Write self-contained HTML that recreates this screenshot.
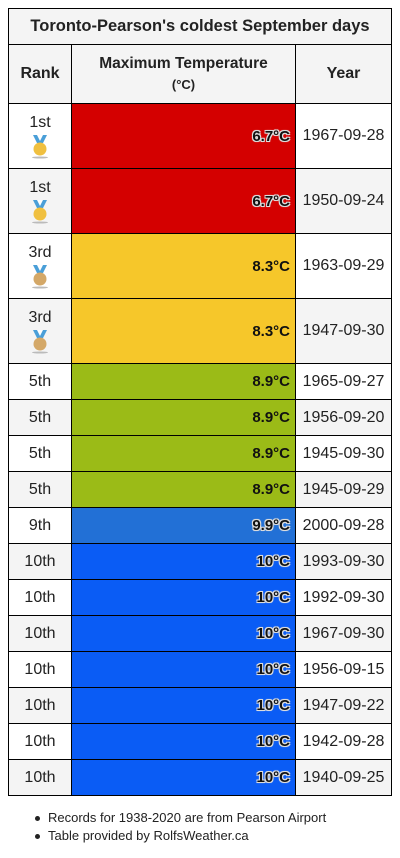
<!DOCTYPE html>
<html><head><meta charset="utf-8"><style>
body{margin:0;width:400px;height:858px;background:#fff;font-family:"Liberation Sans","DejaVu Sans",sans-serif;color:#222;position:relative;overflow:hidden}
.c{position:absolute;box-sizing:border-box;border:1px solid #000;display:flex;align-items:center;justify-content:center;font-size:16px}
.t{justify-content:flex-end;padding-right:5px;font-weight:bold;font-size:15px;color:#111}
.sh{text-shadow:-1px -1px 0 #ddd,1px -1px 0 #ddd,-1px 1px 0 #ddd,1px 1px 0 #ddd,0 0 2px #fff;color:#111}
.foot{position:absolute;left:48px;font-size:13px}
.foot:before{content:"";position:absolute;left:-13px;top:6px;width:5px;height:5px;border-radius:50%;background:#222}
</style></head><body>
<div class="c" style="left:8px;top:8px;width:384px;height:37px;background:#f4f4f4;font-weight:bold;font-size:16.5px">Toronto-Pearson's coldest September days</div>
<div class="c" style="left:8px;top:44px;width:64px;height:60px;background:#f4f4f4;font-weight:bold">Rank</div>
<div class="c" style="left:71px;top:44px;width:225px;height:60px;background:#f4f4f4;font-weight:bold;flex-direction:column;font-size:15.5px;line-height:21px">Maximum Temperature<span style="font-size:13px">(°C)</span></div>
<div class="c" style="left:295px;top:44px;width:97px;height:60px;background:#f4f4f4;font-weight:bold">Year</div>
<div id="rows"></div>
<div class="foot" style="top:810px">Records for 1938-2020 are from Pearson Airport</div>
<div class="foot" style="top:828px">Table provided by RolfsWeather.ca</div>
<script>
const ranks=["1st","1st","3rd","3rd","5th","5th","5th","5th","9th","10th","10th","10th","10th","10th","10th","10th"];
const temps=["6.7°C","6.7°C","8.3°C","8.3°C","8.9°C","8.9°C","8.9°C","8.9°C","9.9°C","10°C","10°C","10°C","10°C","10°C","10°C","10°C"];
const years=["1967-09-28","1950-09-24","1963-09-29","1947-09-30","1965-09-27","1956-09-20","1945-09-30","1945-09-29","2000-09-28","1993-09-30","1992-09-30","1967-09-30","1956-09-15","1947-09-22","1942-09-28","1940-09-25"];
const colors={"6.7°C":"#d40000","8.3°C":"#f6c72a","8.9°C":"#9bbb17","9.9°C":"#2270d6","10°C":"#0a5cf5"};
const medal={"1st":"#f0c040","3rd":"#d4a868"};
const root=document.getElementById('rows');
let y=103;
ranks.forEach((r,i)=>{
  const hasMedal=medal[r]!==undefined;
  const h=hasMedal?66:37;
  const bg=i%2?"#f4f4f4":"#fff";
  const rc=document.createElement('div');
  rc.className='c';
  
  
  rc.style.cssText=`left:8px;top:${y}px;width:64px;height:${h}px;background:${bg};flex-direction:column`;
  rc.innerHTML=hasMedal?`<span style="line-height:20px">${r}</span><svg width="24" height="26" viewBox="0 0 24 26"><path d="M5 2h14l-4 8h-6z" fill="#4a9fd8"/><path d="M9 2h6l-3 6z" fill="#fff"/><circle cx="12" cy="16" r="6.5" fill="${medal[r]}"/><ellipse cx="12" cy="24.5" rx="8" ry="1" fill="#bbb"/></svg>`:r;
  root.appendChild(rc);
  const tc=document.createElement('div');
  const t=temps[i];
  tc.className='c t'+((t==="8.3°C"||t==="8.9°C")?'':' sh');
  
  
  tc.style.cssText=`left:71px;top:${y}px;width:225px;height:${h}px;background:${colors[t]}`;
  tc.textContent=t;
  root.appendChild(tc);
  const yc=document.createElement('div');
  yc.className='c';
  
  
  yc.style.cssText=`left:295px;top:${y}px;width:97px;height:${h}px;background:${bg}`;
  yc.textContent=years[i];
  root.appendChild(yc);
  y+=h-1;
});
</script>
</body></html>
